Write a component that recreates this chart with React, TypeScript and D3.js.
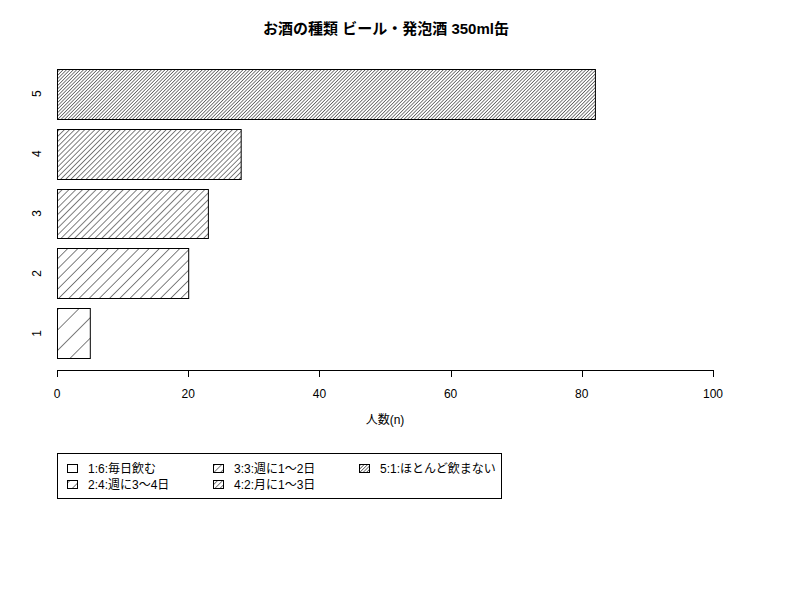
import React from "react";
import * as d3 from "d3";

const categories = ["1", "2", "3", "4", "5"];
const counts = [5, 20, 23, 28, 82];
const xTicks = [0, 20, 40, 60, 80, 100];
const legendLabels = [
  "1:6:毎日飲む",
  "2:4:週に3〜4日",
  "3:3:週に1〜2日",
  "4:2:月に1〜3日",
  "5:1:ほとんど飲まない",
];
const densities = [5, 10, 15, 20, 30];

const W = 800;
const H = 600;
const FONT = "'Liberation Sans', Arial, 'Noto Sans CJK JP', sans-serif";

export default function App() {
  const x = d3.scaleLinear().domain([0, 100]).range([57, 713]);
  // barplot usr y: bars at [0.2+1.2i, 1.2+1.2i], 4% padding
  const y = d3.scaleLinear().domain([-0.032, 6.232]).range([370, 57]);
  const bars = categories.map((c, i) => ({
    c,
    v: counts[i],
    y0: 0.2 + i * 1.2,
    y1: 1.2 + i * 1.2,
  }));

  const legendCols = [67, 213, 359];
  const legendRows = [469, 485];

  return (
    <svg width={W} height={H} style={{ display: "block", position: "absolute", left: 0, top: 0 }} fontFamily={FONT}>
      <defs>
        {densities.map((d, i) => {
          const sp = 72 / d;
          return (
            <pattern
              key={i}
              id={`hatch${i}`}
              patternUnits="userSpaceOnUse"
              width={sp}
              height={sp * 4}
              patternTransform="rotate(45)"
            >
              <line x1={0} y1={-1} x2={0} y2={sp * 4 + 1} stroke="#000" strokeWidth={1} />
            </pattern>
          );
        })}
      </defs>
      <rect x={0} y={0} width={W} height={H} fill="#fff" />
      <text x={386} y={34} textAnchor="middle" fontSize={15} fontWeight="bold">
        お酒の種類 ビール・発泡酒 350ml缶
      </text>

      {bars.map((b, i) => (
        <g key={b.c}>
          <rect
            x={x(0) + 0.5}
            y={Math.round(y(b.y1)) + 0.5}
            width={x(b.v) - x(0)}
            height={Math.round(y(b.y0)) - Math.round(y(b.y1))}
            fill={`url(#hatch${i})`}
            stroke="#000"
            strokeWidth={1}
          />
          <text
            transform={`translate(41, ${y((b.y0 + b.y1) / 2)}) rotate(-90)`}
            textAnchor="middle"
            fontSize={12}
          >
            {b.c}
          </text>
        </g>
      ))}

      <g>
        <line x1={x(0)} x2={x(100)} y1={370.5} y2={370.5} stroke="#000" />
        {xTicks.map((t) => (
          <g key={t}>
            <line x1={Math.round(x(t)) + 0.5} x2={Math.round(x(t)) + 0.5} y1={370} y2={377} stroke="#000" />
            <text x={x(t)} y={398} textAnchor="middle" fontSize={12}>
              {t}
            </text>
          </g>
        ))}
      </g>
      <text x={385} y={424} textAnchor="middle" fontSize={12}>
        人数(n)
      </text>

      <rect x={57.5} y={453.5} width={444} height={45} fill="none" stroke="#000" />
      {legendLabels.map((l, i) => {
        const col = Math.floor(i / 2);
        const row = i % 2;
        const lx = legendCols[col];
        const ly = legendRows[row];
        return (
          <g key={l}>
            <rect
              x={lx + 0.5}
              y={ly - 4.5}
              width={10}
              height={8}
              fill={`url(#hatch${i})`}
              stroke="#000"
            />
            <text x={lx + 21} y={ly + 4} fontSize={12}>
              {l}
            </text>
          </g>
        );
      })}
    </svg>
  );
}
